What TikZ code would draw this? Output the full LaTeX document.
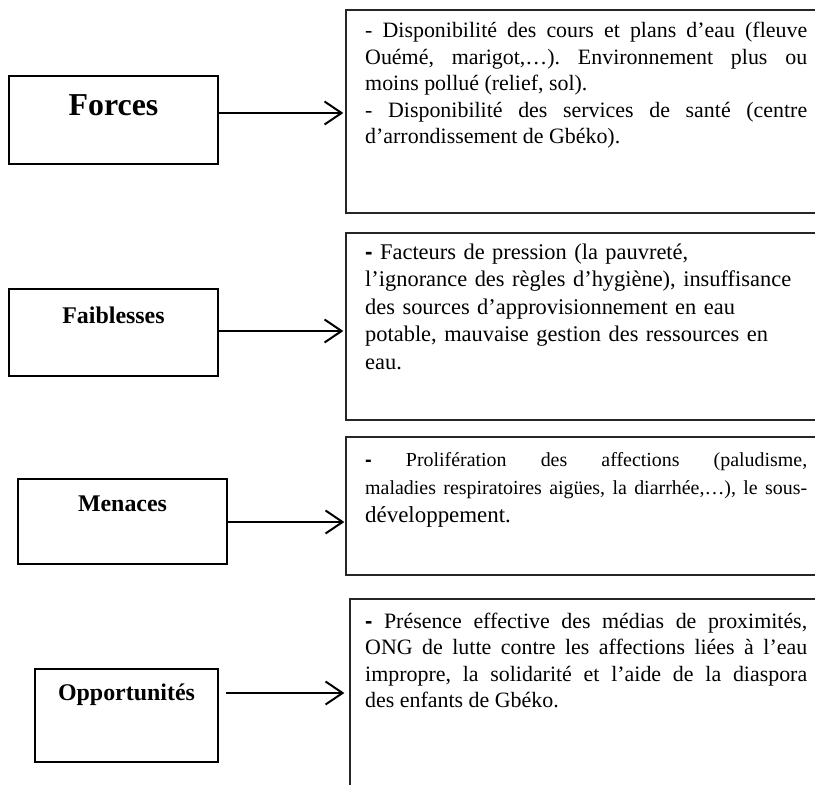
\documentclass[tikz,border=0pt]{standalone}
\usepackage{fontspec}
\setmainfont{Liberation Serif}
\newfontfamily\dashfont{Liberation Sans}
\usetikzlibrary{arrows.meta,calc}
\newcommand{\bdash}{{\dashfont\bfseries -}}
\frenchspacing
\begin{document}
\begin{tikzpicture}[x=1bp,y=-1bp,
  leftbox/.style={draw=black,line width=1.1bp,rectangle,inner sep=0pt},
  rightbox/.style={draw=black!85,line width=1.3bp,rectangle,inner sep=0pt},
  title/.style={font=\bfseries\fontsize{24}{28}\selectfont},
  bigtitle/.style={font=\bfseries\fontsize{32}{36}\selectfont},
  body/.style={anchor=base west,inner sep=0pt,text width=442bp},
  arr/.style={line width=2bp,-{Straight Barb[length=17bp,width=23bp,line width=2bp]}}
]
\useasboundingbox (0,0) rectangle (815,785);
\fill[white] (0,0) rectangle (815,785);
\clip (0,0) rectangle (815,785);

% left boxes
\node[leftbox,minimum width=209bp,minimum height=88bp,
  label={[bigtitle,yshift=15bp]center:Forces}] (f) at (113.5,120) {};
\node[leftbox,minimum width=209bp,minimum height=87bp,
  label={[title,yshift=17bp]center:Faiblesses}] (w) at (113.5,332.5) {};
\node[leftbox,minimum width=209bp,minimum height=85bp,
  label={[title,yshift=18bp]center:Menaces}] (m) at (122.5,521.5) {};
\node[leftbox,minimum width=183bp,minimum height=93bp,
  label={[title,yshift=21bp]center:Opportunités}] (o) at (126.5,715.5) {};

% right boxes (extend past the right edge)
\node[rightbox,minimum width=484bp,minimum height=203bp] (fr) at (588,111.5) {};
\node[rightbox,minimum width=484bp,minimum height=187bp] (wr) at (588,326.5) {};
\node[rightbox,minimum width=484bp,minimum height=138bp] (mr) at (588,506) {};
\node[rightbox,minimum width=480bp,minimum height=201bp] (or) at (590,699.5) {};

% texts
\node[body,align=justify,font=\fontsize{22}{26.5}\selectfont] (ft) at (365,38)
 {- Disponibilité des cours et plans d’eau (fleuve\linebreak Ouémé, marigot,…). Environnement plus ou\linebreak moins pollué (relief, sol).\\- Disponibilité des services de santé (centre\linebreak d’arrondissement de Gbéko).};

\node[body,align=left,font=\fontsize{22.5}{27.7}\selectfont] (wt) at (365,259)
 {\bdash{} Facteurs de pression (la pauvreté,\\l’ignorance des règles d’hygiène), insuffisance\\des sources d’approvisionnement en eau\\potable, mauvaise gestion des ressources en\\eau.};

\node[body,align=justify,font=\fontsize{20}{28.5}\selectfont] (mt) at (365,466)
 {\bdash{} Prolifération des affections (paludisme,\linebreak maladies respiratoires aigües, la diarrhée,…), le sous-\linebreak{\fontsize{23}{28.5}\selectfont développement.}};

\node[body,align=justify,font=\fontsize{22}{26.7}\selectfont] (ot) at (365,628)
 {\bdash{} Présence effective des médias de proximités,\linebreak ONG de lutte contre les affections liées à l’eau\linebreak impropre, la solidarité et l’aide de la diaspora\linebreak des enfants de Gbéko.};

% connectors
\coordinate (a1) at (218,113);
\coordinate (a2) at (218,331);
\coordinate (a3) at (227,522);
\coordinate (a4) at (226,693);
\draw[arr,shorten >=2bp] (a1) -- (a1 -| fr.west);
\draw[arr,shorten >=2bp] (a2) -- (a2 -| wr.west);
\draw[arr,shorten >=1bp] (a3) -- (a3 -| mr.west);
\draw[arr,shorten >=5bp] (a4) -- (a4 -| or.west);
\end{tikzpicture}
\end{document}
